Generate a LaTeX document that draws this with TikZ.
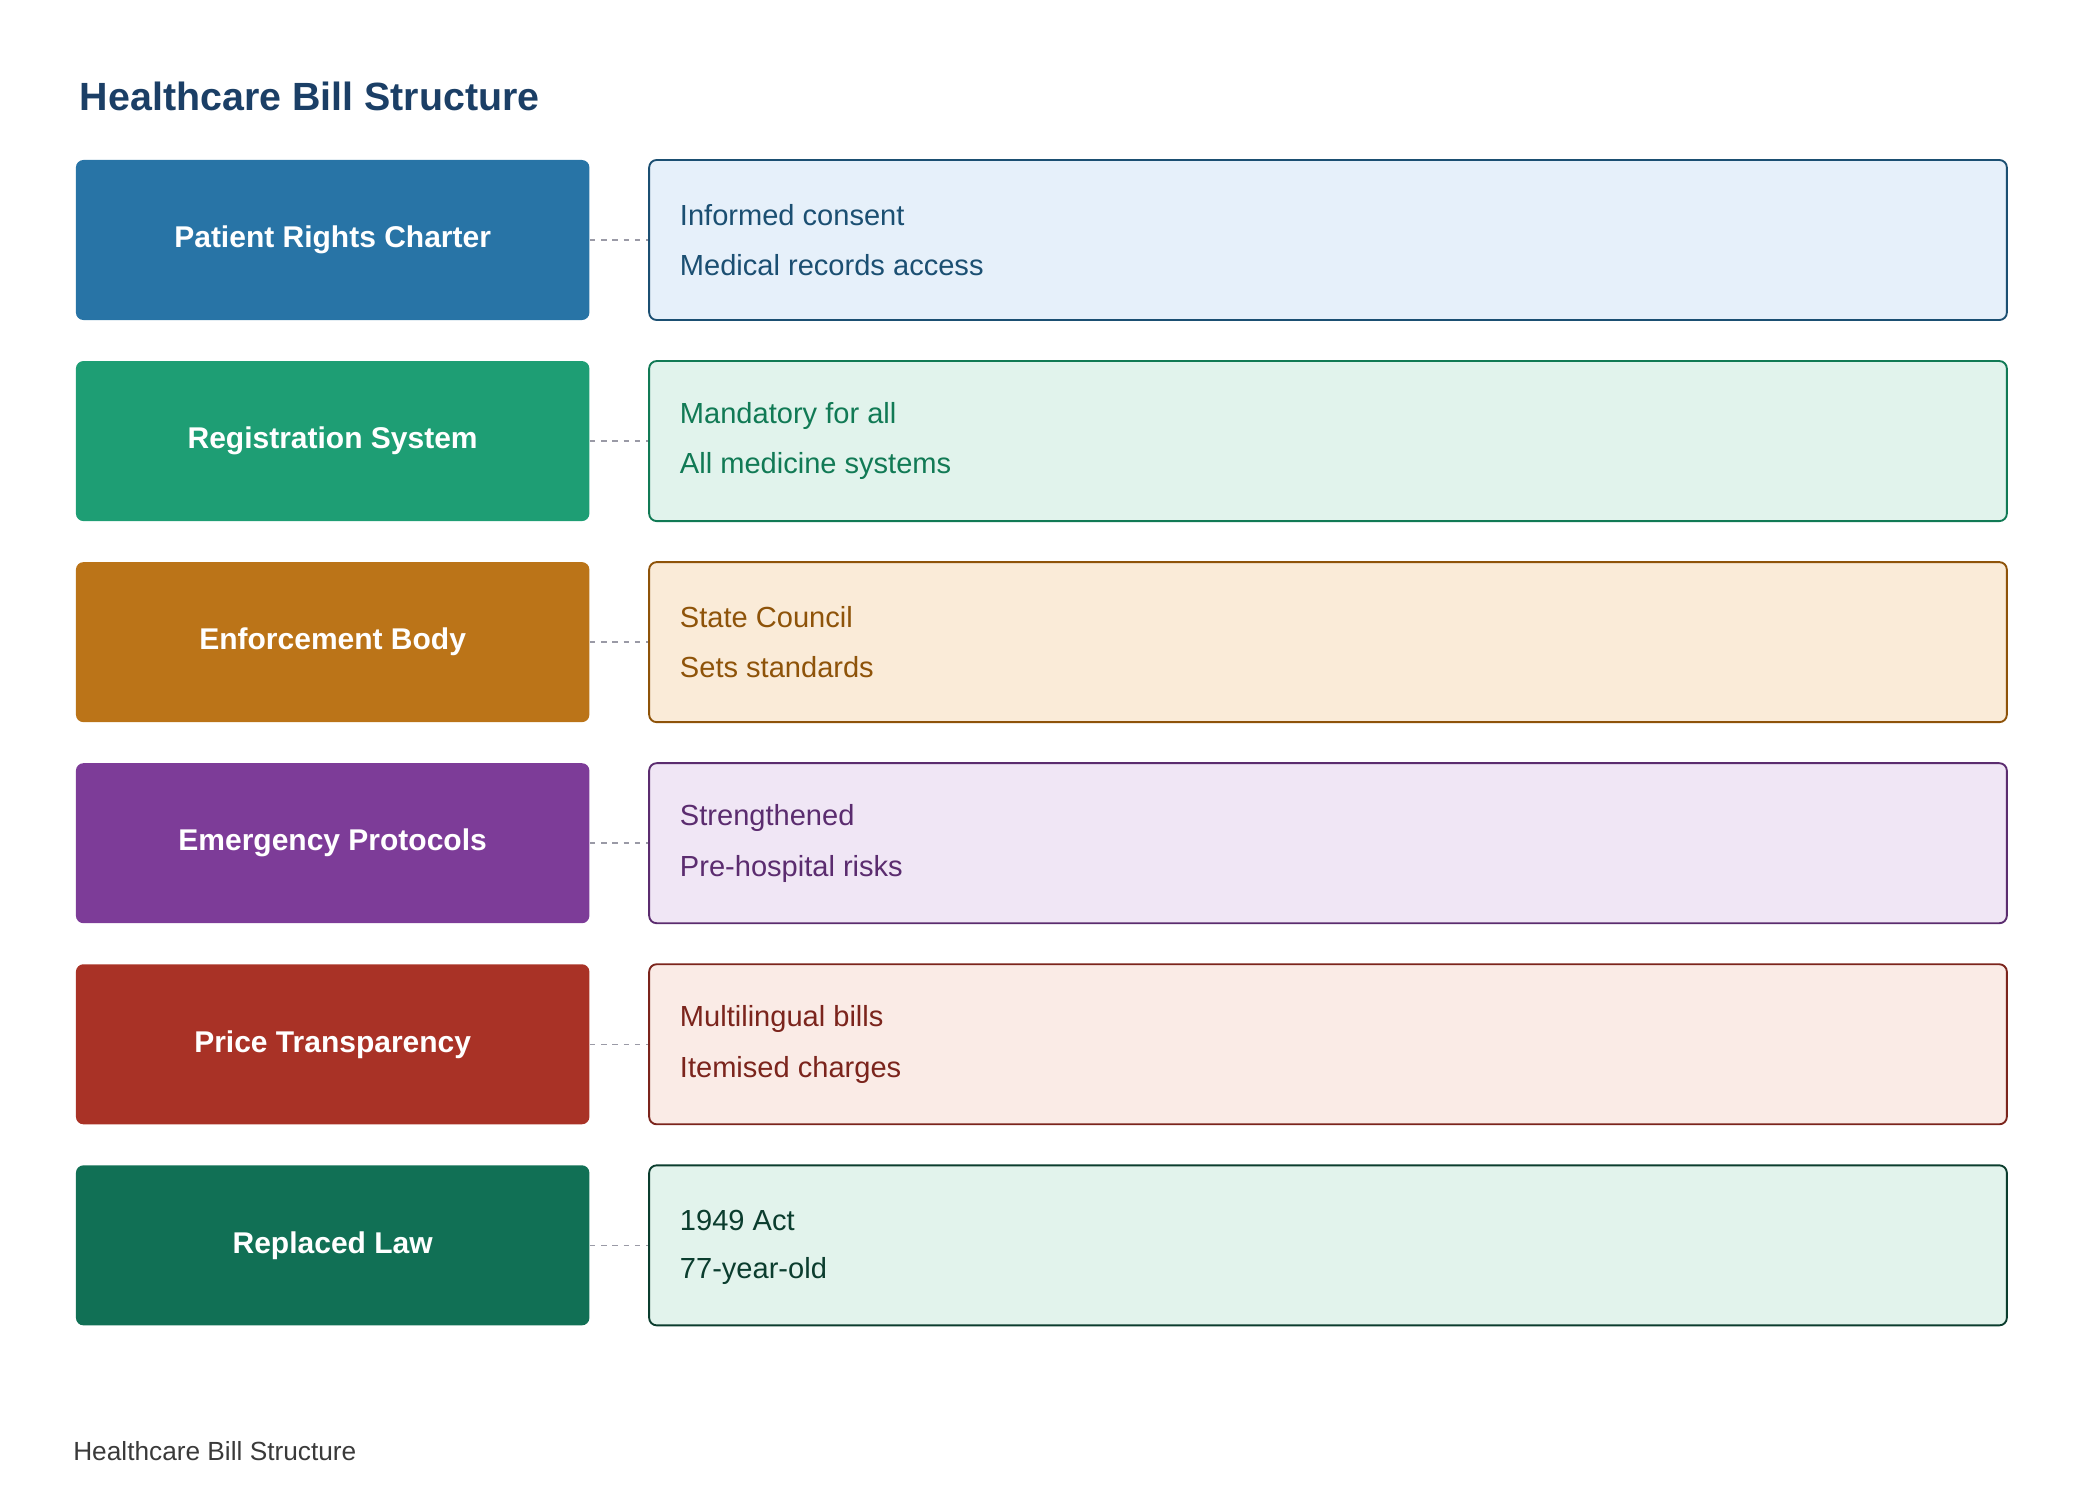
\documentclass[tikz,border=0pt]{standalone}
\usepackage{fontspec}
\setmainfont{Liberation Sans}
\usetikzlibrary{positioning}
\definecolor{titleBlue}{HTML}{1B3F66}
\definecolor{dashGray}{HTML}{9A9AA6}
\definecolor{footGray}{HTML}{3A3A3A}
\definecolor{headA}{HTML}{2874A6}\definecolor{lineA}{HTML}{1B4F72}\definecolor{fillA}{HTML}{E6F0FA}
\definecolor{headB}{HTML}{1E9E74}\definecolor{lineB}{HTML}{117A55}\definecolor{fillB}{HTML}{E1F3EC}
\definecolor{headC}{HTML}{BB7418}\definecolor{lineC}{HTML}{8E5309}\definecolor{fillC}{HTML}{FAEBD8}
\definecolor{headD}{HTML}{7D3C98}\definecolor{lineD}{HTML}{5B2C6F}\definecolor{fillD}{HTML}{F0E6F5}
\definecolor{headE}{HTML}{A93226}\definecolor{lineE}{HTML}{7B241C}\definecolor{fillE}{HTML}{FAEBE6}
\definecolor{headF}{HTML}{117055}\definecolor{lineF}{HTML}{0B3D2E}\definecolor{fillF}{HTML}{E2F3EC}
\begin{document}
\begin{tikzpicture}[x=0.025cm, y=-0.025cm,
    head/.style={rounded corners=4pt, minimum width=9.625cm, minimum height=3cm, inner sep=0pt,
        text=white, font=\fontsize{16}{19}\selectfont\bfseries},
    detail/.style={rounded corners=4pt, line width=1pt, minimum width=25.45cm, minimum height=3cm},
    item/.style={anchor=west, font=\fontsize{15.5}{18}\selectfont},
    link/.style={dashGray, dashed, line width=0.8pt}]
\useasboundingbox (0,0) rectangle (1560,1131);
\node[anchor=west, text=titleBlue, font=\fontsize{21}{25}\selectfont\bfseries] (title) at (55,72) {Healthcare Bill Structure};
% one row per section of the bill
\foreach \k/\c/\name/\one/\two in {%
    0/A/Patient Rights Charter/Informed consent/Medical records access,
    1/B/Registration System/Mandatory for all/All medicine systems,
    2/C/Enforcement Body/State Council/Sets standards,
    3/D/Emergency Protocols/Strengthened/Pre-hospital risks,
    4/E/Price Transparency/Multilingual bills/Itemised charges,
    5/F/Replaced Law/1949 Act/77-year-old} {
  \pgfmathsetmacro\yc{180+150.8*\k}
  \node[head, fill=head\c] (h\k) at (249.5,\yc) {\name};
  \node[detail, draw=line\c, fill=fill\c] (d\k) at (996,\yc) {};
  \node[item, text=line\c] (p\k) at (505,\yc-19) {\one};
  \node[item, text=line\c] (q\k) at (505,\yc+19) {\two};
  \draw[link] (h\k.east) -- (d\k.west);
}
\node[anchor=west, text=footGray, font=\fontsize{14}{17}\selectfont] (foot) at (50,1088) {Healthcare Bill Structure};
\end{tikzpicture}
\end{document}
